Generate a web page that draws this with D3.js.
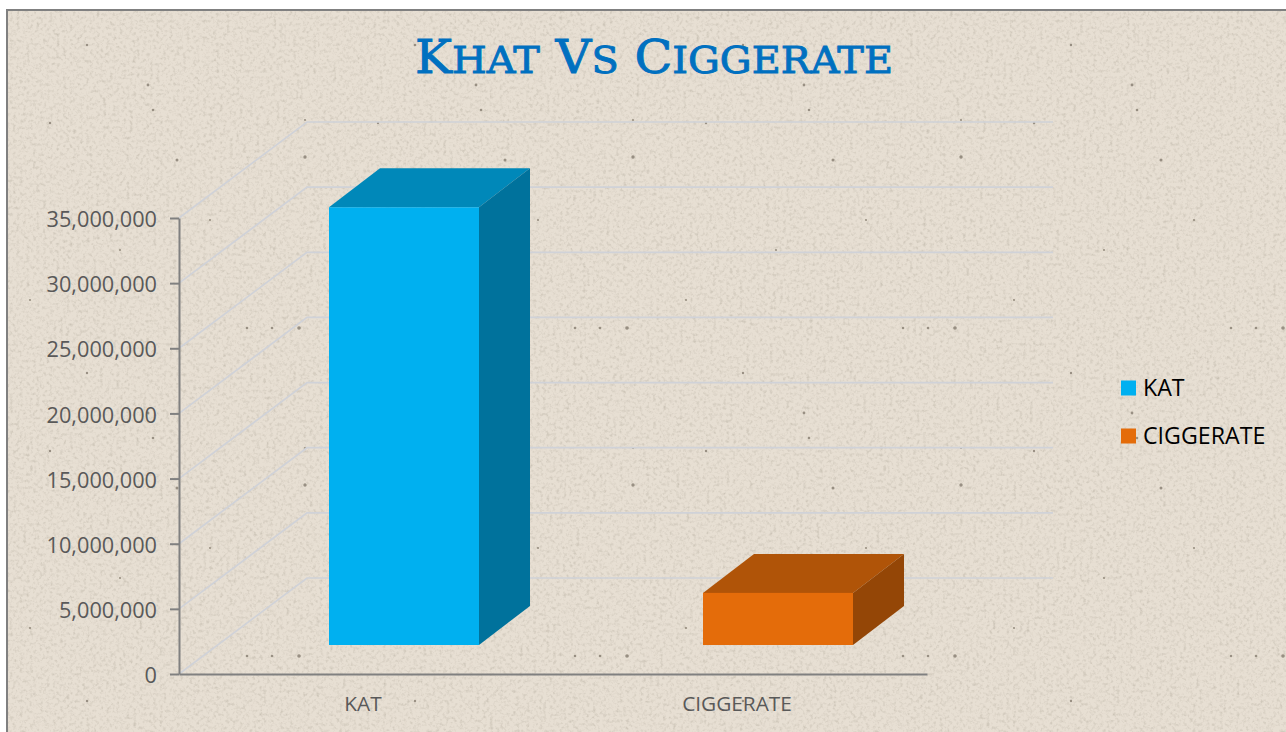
<!DOCTYPE html>
<html><head><meta charset="utf-8">
<script src="https://cdn.jsdelivr.net/npm/d3@7"></script>
<style>html,body{margin:0;padding:0;background:#fff;overflow:hidden}svg{display:block}</style>
</head><body><div id="c"></div>
<script>
const categories = ["KAT", "CIGGERATE"];
const values = [33600000, 4000000];
const frontColors = ["#00b0f0", "#e46c0a"];
const topColors = ["#0088b9", "#b05408"];
const sideColors = ["#00729c", "#944606"];
const yTicks = [0, 5000000, 10000000, 15000000, 20000000, 25000000, 30000000, 35000000];
const titleWords = "Khat Vs Ciggerate";

const W = 1286, H = 732;
const svg = d3.select("#c").append("svg").attr("width", W).attr("height", H);
const defs = svg.append("defs");

const f = defs.append("filter").attr("id", "paper").attr("x", 0).attr("y", 0).attr("width", "100%").attr("height", "100%");
f.append("feTurbulence").attr("type", "fractalNoise").attr("baseFrequency", 0.3).attr("numOctaves", 3).attr("seed", 7).attr("result", "n");
f.append("feColorMatrix").attr("in", "n").attr("type", "matrix")
  .attr("values", "0 0 0 0 0.58  0 0 0 0 0.53  0 0 0 0 0.45  1.3 1.3 0 0 -1.22").attr("result", "s");
f.append("feMerge").selectAll("feMergeNode").data(["SourceGraphic", "s"]).join("feMergeNode").attr("in", d => d);

const soft = defs.append("filter").attr("id", "soft");
soft.append("feGaussianBlur").attr("stdDeviation", 0.7);

const pat = defs.append("pattern").attr("id", "dots").attr("patternUnits", "userSpaceOnUse")
  .attr("x", 0).attr("y", 100).attr("width", 328).attr("height", 328);
const dotSpots = [[299,228,1.8],[247,228,1.3],[272,228,1.3],[305,57,1.7],[177,60,1.5],[148,313,1.4],[87,273,1.2],[153,10,1.3],[50,23,1.2],[305,20,1.1],[120,150,1.1],[30,200,1.1],[210,120,1.1]];
const patG = pat.append("g").attr("filter", "url(#soft)");
patG.selectAll("circle").data(dotSpots).join("circle")
  .attr("cx", d => d[0]).attr("cy", d => d[1]).attr("r", d => d[2]).attr("fill", "#7f7668").attr("opacity", .75);

svg.append("rect").attr("x", 7).attr("y", 10).attr("width", W).attr("height", H).attr("fill", "#e7dfd3").attr("filter", "url(#paper)");
svg.append("rect").attr("x", 7).attr("y", 10).attr("width", W).attr("height", H).attr("fill", "url(#dots)");
svg.append("path").attr("d", `M7,${H}V10H${W}`).attr("fill", "none").attr("stroke", "#808080").attr("stroke-width", 2);

const y = d3.scaleLinear().domain([0, 35000000]).range([674, 218]);
const x = d3.scaleBand().domain(categories).range([179, 927]);
const wallDx = 128, wallDy = -96, wallEnd = 1053, barDx = 51, barDy = -39, floorLift = 29;

const grid = svg.append("g").attr("fill", "none").attr("stroke", "#d0d2d8").attr("stroke-width", 1.7);
grid.selectAll("path").data(yTicks).join("path")
  .attr("d", t => `M179,${y(t)}L${179 + wallDx},${y(t) + wallDy}H${wallEnd}`);

const bars = svg.append("g");
categories.forEach((c, i) => {
  const xl = x(c) + x.bandwidth() / 2 - 37, xr = xl + 150;
  const yb = y(0) - floorLift, yt = y(values[i]) - floorLift;
  const g = bars.append("g");
  g.append("path").attr("fill", topColors[i])
    .attr("d", `M${xl},${yt}L${xl + barDx},${yt + barDy}H${xr + barDx}L${xr},${yt}Z`);
  g.append("path").attr("fill", sideColors[i])
    .attr("d", `M${xr},${yt}L${xr + barDx},${yt + barDy}V${yb + barDy}L${xr},${yb}Z`);
  g.append("rect").attr("x", xl).attr("y", yt).attr("width", 150).attr("height", yb - yt).attr("fill", frontColors[i]);
});

const fmt = d3.format(",");
const yAxis = d3.axisLeft(y).tickValues(yTicks).tickFormat(fmt).tickSize(9).tickPadding(13).tickSizeOuter(0);
const ga = svg.append("g").attr("transform", "translate(179,0)").call(yAxis);
ga.select(".domain").attr("stroke", "#808080").attr("stroke-width", 2);
ga.selectAll(".tick line").attr("stroke", "#808080").attr("stroke-width", 2);
ga.selectAll("text").attr("font-family", "'Open Sans'").attr("font-size", 21.7).attr("fill", "#595959").attr("dy", "0.4em");

const xAxis = d3.axisBottom(x).tickSize(0).tickPadding(22);
const gx = svg.append("g").attr("transform", "translate(0,674)").call(xAxis);
gx.select(".domain").attr("stroke", "#808080").attr("stroke-width", 2);
gx.selectAll("text").attr("font-family", "'Open Sans'").attr("font-size", 20.8).attr("fill", "#595959").attr("dx", -3);

const title = svg.append("text").attr("x", 415).attr("y", 73)
  .attr("font-family", "'DejaVu Serif','Liberation Serif'").attr("fill", "#0070c0")
  .attr("stroke", "#0070c0").attr("stroke-width", 0.9);
title.selectAll("tspan").data(Array.from(titleWords)).join("tspan")
  .attr("font-size", d => d === d.toUpperCase() ? 46 : 37)
  .text(d => d.toUpperCase());
title.attr("textLength", 478).attr("lengthAdjust", "spacingAndGlyphs");

const leg = svg.append("g");
categories.forEach((c, i) => {
  const ly = 388 + i * 48;
  leg.append("rect").attr("x", 1121).attr("y", ly - 7.5).attr("width", 15).attr("height", 15).attr("fill", frontColors[i]);
  leg.append("text").attr("x", 1143).attr("y", ly + 8).text(c)
    .attr("font-family", "'Open Sans'").attr("font-size", 23.2).attr("fill", "#000");
});
</script></body></html>
